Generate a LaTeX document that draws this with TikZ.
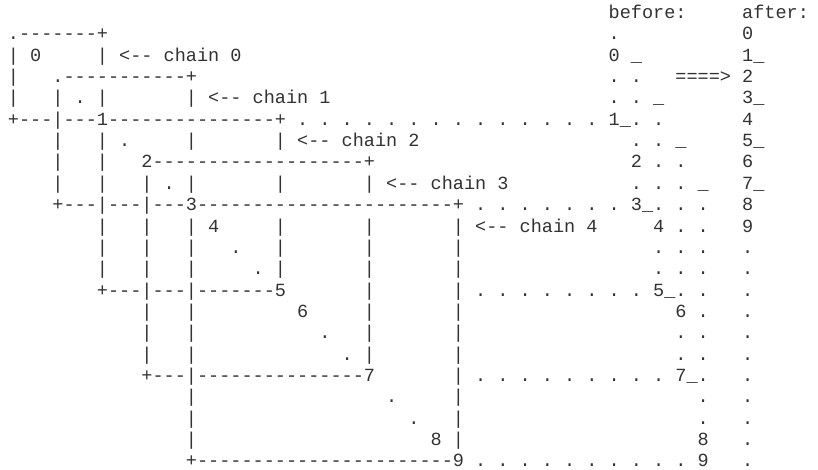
\documentclass[tikz,border=0pt]{standalone}
\usepackage{fontspec}
\setmonofont{Liberation Mono}
\newlength\cw
\setlength\cw{11.125pt}
\newcommand\atcol[2]{\makebox[0pt][l]{\hspace*{#1\cw}#2}}
\ExplSyntaxOn
\cs_new:Npn \myrep #1#2 { \prg_replicate:nn {#1} {#2} }
\ExplSyntaxOff
\tikzset{asciirow/.style={anchor=base west, inner sep=0pt, outer sep=0pt,
  font=\ttfamily\fontsize{18.54pt}{21pt}\selectfont\frenchspacing, text=black!80}}
\begin{document}
\begin{tikzpicture}[x=11.125pt, y=-21.34pt]
\fill[white] (0pt,0pt) rectangle (818pt,-469pt);
\useasboundingbox (0pt,0pt) rectangle (818pt,-469pt);
\begin{scope}[shift={(7.44pt,-18.6pt)}]
\node[asciirow] (r0) at (0,0) {\atcol{54}{before:}\atcol{66}{after:}};
\node[asciirow] (r1) at (0,1) {\atcol{0}{.\myrep{7}{-}+}\atcol{54}{.}\atcol{66}{0}};
\node[asciirow] (r2) at (0,2) {\atcol{0}{| 0}\atcol{8}{| <-- chain 0}\atcol{54}{0 \_}\atcol{66}{1\_}};
\node[asciirow] (r3) at (0,3) {\atcol{0}{|}\atcol{4}{.\myrep{11}{-}+}\atcol{54}{. .}\atcol{60}{====>}\atcol{66}{2}};
\node[asciirow] (r4) at (0,4) {\atcol{0}{|}\atcol{4}{| . |}\atcol{16}{| <-- chain 1}\atcol{54}{. . \_}\atcol{66}{3\_}};
\node[asciirow] (r5) at (0,5) {\atcol{0}{+---|---1\myrep{15}{-}+\myrep{14}{ .} 1\_. .}\atcol{66}{4}};
\node[asciirow] (r6) at (0,6) {\atcol{4}{|}\atcol{8}{| .}\atcol{16}{|}\atcol{24}{| <-- chain 2}\atcol{56}{. . \_}\atcol{66}{5\_}};
\node[asciirow] (r7) at (0,7) {\atcol{4}{|}\atcol{8}{|}\atcol{12}{2\myrep{19}{-}+}\atcol{56}{2 . .}\atcol{66}{6}};
\node[asciirow] (r8) at (0,8) {\atcol{4}{|}\atcol{8}{|}\atcol{12}{| . |}\atcol{24}{|}\atcol{32}{| <-- chain 3}\atcol{56}{. . . \_}\atcol{66}{7\_}};
\node[asciirow] (r9) at (0,9) {\atcol{4}{+---|---|---3\myrep{23}{-}+\myrep{7}{ .} 3\_. . .}\atcol{66}{8}};
\node[asciirow] (r10) at (0,10) {\atcol{8}{|}\atcol{12}{|}\atcol{16}{| 4}\atcol{24}{|}\atcol{32}{|}\atcol{40}{| <-- chain 4}\atcol{58}{4 . .}\atcol{66}{9}};
\node[asciirow] (r11) at (0,11) {\atcol{8}{|}\atcol{12}{|}\atcol{16}{|}\atcol{20}{.}\atcol{24}{|}\atcol{32}{|}\atcol{40}{|}\atcol{58}{. . .}\atcol{66}{.}};
\node[asciirow] (r12) at (0,12) {\atcol{8}{|}\atcol{12}{|}\atcol{16}{|}\atcol{22}{.}\atcol{24}{|}\atcol{32}{|}\atcol{40}{|}\atcol{58}{. . .}\atcol{66}{.}};
\node[asciirow] (r13) at (0,13) {\atcol{8}{+---|---|\myrep{7}{-}5}\atcol{32}{|}\atcol{40}{|\myrep{8}{ .} 5\_. .}\atcol{66}{.}};
\node[asciirow] (r14) at (0,14) {\atcol{12}{|}\atcol{16}{|}\atcol{26}{6}\atcol{32}{|}\atcol{40}{|}\atcol{60}{6 .}\atcol{66}{.}};
\node[asciirow] (r15) at (0,15) {\atcol{12}{|}\atcol{16}{|}\atcol{28}{.}\atcol{32}{|}\atcol{40}{|}\atcol{60}{. .}\atcol{66}{.}};
\node[asciirow] (r16) at (0,16) {\atcol{12}{|}\atcol{16}{|}\atcol{30}{.}\atcol{32}{|}\atcol{40}{|}\atcol{60}{. .}\atcol{66}{.}};
\node[asciirow] (r17) at (0,17) {\atcol{12}{+---|\myrep{15}{-}7}\atcol{40}{|\myrep{9}{ .} 7\_.}\atcol{66}{.}};
\node[asciirow] (r18) at (0,18) {\atcol{16}{|}\atcol{34}{.}\atcol{40}{|}\atcol{62}{.}\atcol{66}{.}};
\node[asciirow] (r19) at (0,19) {\atcol{16}{|}\atcol{36}{.}\atcol{40}{|}\atcol{62}{.}\atcol{66}{.}};
\node[asciirow] (r20) at (0,20) {\atcol{16}{|}\atcol{38}{8 |}\atcol{62}{8}\atcol{66}{.}};
\node[asciirow] (r21) at (0,21) {\atcol{16}{+\myrep{23}{-}9\myrep{10}{ .} 9}\atcol{66}{.}};
\end{scope}
\end{tikzpicture}
\end{document}
